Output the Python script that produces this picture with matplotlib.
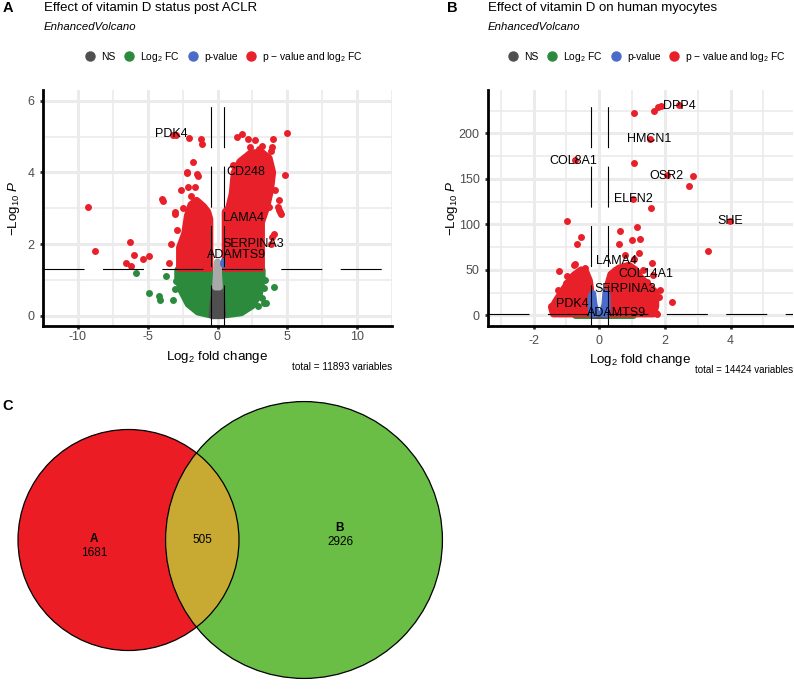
"""Volcano plots for the two vitamin D datasets plus the Venn overlap of their DEGs."""

import matplotlib.pyplot as plt
from matplotlib.lines import Line2D
from matplotlib.patches import Circle, Polygon

plt.rcParams["font.family"] = ["Liberation Sans", "DejaVu Sans"]
plt.rcParams["mathtext.fontset"] = "custom"
plt.rcParams["mathtext.rm"] = "Liberation Sans"
plt.rcParams["mathtext.it"] = "Liberation Sans:italic"
plt.rcParams["mathtext.bf"] = "Liberation Sans:bold"
plt.rcParams["axes.unicode_minus"] = False

# ---- panel A: vitamin D status post ACLR ----
a_red_x = [-9.3, -8.8, -6.3, -6.0, -6.55, -6.2, -5.35, -4.9, -3.97, -3.9, -3.5, -3.3, -3.08,
           -3.05, -2.6, -2.1, -2.2, -2.15, -1.75, -1.4, -1.45, -1.6, -3.2, -3.0, -2.03, -1.21,
           -1.12, 4.97, 1.42, 1.75, 2.15, 2.66, 4.0, 3.9, 3.85, 3.0, 2.6, 2.9, 4.85, 4.4, 4.55,
           1.1, 3.68, 4.3, 4.5, 4.05, 3.9, 3.8, 2.78, 4.15, 4.38, 3.2, 2.3, -2.45, -1.9, -2.9]
a_red_y = [3.04, 1.8, 2.05, 1.7, 1.48, 1.4, 1.58, 1.66, 3.26, 3.2, 1.46, 2.0, 2.9,
           2.85, 3.5, 3.6, 3.97, 4.0, 4.3, 3.9, 3.95, 3.6, 5.05, 5.05, 4.97, 4.93,
           4.79, 5.11, 4.99, 5.06, 4.93, 4.91, 4.93, 4.72, 4.6, 4.65, 4.55, 4.5, 3.93, 2.95, 2.85,
           4.22, 3.04, 3.04, 2.9, 2.28, 2.2, 2.0, 4.34, 3.51, 3.23, 4.75, 4.7, 3.0, 3.35, 2.4]
a_green_x = [-5.87, -4.94, -4.2, -4.1, -3.66, -3.0, -3.05, -3.2, 4.03, 3.4, 3.3, 3.35, 3.45, 3.2, 2.9]
a_green_y = [1.19, 0.62, 0.55, 0.45, 1.12, 0.98, 0.75, 0.44, 0.79, 1.0, 0.78, 0.35, 0.36, 0.5, 0.27]
a_blue_x = [0.3, 0.35, 0.4, 0.38]
a_blue_y = [1.45, 1.5, 1.55, 1.42]

# outlines of the dense point clouds (point centres)
a_cloud_green = [(-2.85, 1.28), (-0.55, 1.28), (-0.45, 0.5), (0.45, 0.5), (0.55, 1.28), (3.2, 1.28),
                 (3.2, 1.0), (3.0, 0.6), (2.5, 0.28), (1.7, 0.08), (0.5, 0.02), (-0.5, 0.02),
                 (-1.4, 0.1), (-2.1, 0.32), (-2.6, 0.7), (-2.85, 1.05)]
a_cloud_ns = [(-0.38, 0.0), (0.38, 0.0), (0.3, 0.4), (0.14, 0.8), (0.05, 1.0), (-0.05, 1.0),
              (-0.14, 0.8), (-0.3, 0.4)]
a_cloud_ns_sparse = [(-0.14, 0.8), (0.14, 0.8), (0.05, 1.3), (0.0, 1.5), (-0.05, 1.3)]
a_cloud_red_left = [(-0.55, 1.32), (-2.72, 1.32), (-2.72, 1.9), (-2.35, 2.3), (-2.15, 2.8),
                    (-1.9, 3.1), (-1.5, 3.22), (-1.0, 3.05), (-0.7, 2.9), (-0.55, 2.7)]
a_cloud_red_right = [(0.55, 1.32), (3.15, 1.32), (3.15, 2.6), (3.5, 3.0), (3.8, 3.5),
                     (3.95, 4.0), (3.7, 4.4), (3.2, 4.55), (2.4, 4.55), (1.6, 4.3), (1.2, 4.0),
                     (1.05, 3.4), (0.8, 3.0), (0.55, 2.9)]

a_labels = ["PDK4", "CD248", "LAMA4", "SERPINA3", "ADAMTS9"]
a_label_x = [-3.3, 2.0, 1.85, 2.54, 1.37]
a_label_y = [5.07, 4.02, 2.72, 1.99, 1.68]

# ---- panel B: vitamin D on human myocytes ----
b_red_x = [1.07, 1.67, 1.8, 1.87, 2.43, 1.55, -0.75, 1.07, 2.07, 2.85, 2.73, 1.02, 1.58, 3.98,
           -0.98, 3.31, 1.14, 0.63, 0.99, 1.25, 0.61, -0.57, -0.68, 1.2, 1.62, 2.2, -1.22, -0.98,
           -0.78, -0.75, -1.25, -1.48, -1.01, -0.44, 0.78, 1.65, 1.34, 1.44, 1.06, 0.48, 1.73,
           1.85, 1.81, 1.6, 1.75]
b_red_y = [222.5, 224.3, 229.0, 230.5, 231.0, 194.2, 170.7, 167.0, 154.0, 153.4, 142.4, 127.5,
           118.3, 104.0, 103.3, 71.0, 97.4, 92.6, 83.0, 84.2, 78.0, 85.7, 78.7, 68.5, 58.0, 15.0,
           48.7, 43.0, 55.0, 56.5, 27.8, 10.2, 35.0, 51.6, 66.0, 44.0, 49.8, 37.0, 61.9, 49.8, 2.2,
           27.8, 20.5, 10.2, 1.4]

b_cloud_green = [(-0.73, 0.2), (1.03, 0.2), (1.03, 1.2), (-0.73, 1.2)]
b_cloud_ns = [(-0.2, 0.2), (0.2, 0.2), (0.2, 1.2), (-0.2, 1.2)]
b_cloud_red_left = [(-0.27, 1.5), (-1.4, 1.5), (-1.45, 8), (-1.3, 17), (-1.12, 27), (-0.95, 36),
                    (-0.78, 44), (-0.55, 50), (-0.4, 47), (-0.3, 38), (-0.27, 30)]
b_cloud_red_right = [(0.27, 1.5), (1.65, 1.5), (1.72, 10), (1.72, 25), (1.5, 33), (1.25, 42),
                     (1.1, 50), (0.9, 55), (0.6, 52), (0.35, 45), (0.27, 35)]
b_cloud_blue_left = [(-0.24, 1.5), (-0.24, 22), (-0.2, 24), (-0.16, 12), (-0.1, 3), (-0.1, 1.5)]
b_cloud_blue_right = [(0.1, 1.5), (0.1, 3), (0.17, 12), (0.2, 25), (0.24, 22), (0.24, 1.5)]

b_labels = ["DPP4", "HMCN1", "COL8A1", "OSR2", "ELFN2", "SHE", "LAMA4", "COL14A1",
            "SERPINA3", "PDK4", "ADAMTS9"]
b_label_x = [2.44, 1.53, -0.78, 2.05, 1.03, 4.0, 0.53, 1.42, 0.78, -0.82, 0.53]
b_label_y = [230, 193.7, 170, 153.4, 127.5, 104, 60, 45, 28.9, 12.4, 2.9]

# ---- panel C: Venn counts ----
venn_only_a = 1681
venn_both = 505
venn_only_b = 2926

COL_NS = "#4f4f4f"
COL_FC = "#2b8a3b"
COL_P = "#4a6bc8"
COL_FC_P = "#e8202a"

W, H = 794, 690


def fig_box(left, top, right, bottom):
    """Pixel box of the reference -> figure fraction rectangle."""
    return [left / W, 1 - bottom / H, (right - left) / W, (bottom - top) / H]


def add_cloud(ax, verts, color, zorder, alpha=1.0):
    patch = Polygon(verts, closed=True, facecolor=color, edgecolor=color, lw=5,
                    joinstyle="round", alpha=alpha, zorder=zorder)
    ax.add_patch(patch)


def style_volcano(ax, xlim, ylim, xmajor, xminor, ymajor, yminor, fc_cut, xpad):
    ax.set_xlim(*xlim)
    ax.set_ylim(*ylim)
    ax.set_xticks(xmajor)
    ax.set_xticks(xminor, minor=True)
    ax.set_yticks(ymajor)
    ax.set_yticks(yminor, minor=True)
    ax.grid(which="major", color="#ebebeb", lw=2.2)
    ax.grid(which="minor", color="#ebebeb", lw=1.2)
    ax.set_axisbelow(True)
    for side in ("top", "right"):
        ax.spines[side].set_visible(False)
    for side in ("left", "bottom"):
        ax.spines[side].set_linewidth(2.0)
        ax.spines[side].set_color("black")
    ax.tick_params(which="major", length=2.5, width=2, color="#333333", labelsize=9,
                   labelcolor="#4d4d4d")
    ax.tick_params(axis="x", pad=xpad)
    ax.tick_params(which="minor", length=0)

    dash = (0, (36.9, 16.6))
    for xc in (-fc_cut, fc_cut):
        ax.axvline(xc, color="black", lw=0.8, linestyle=dash, zorder=6)
    ax.axhline(1.30103, color="black", lw=0.8, linestyle=dash, zorder=6)

    ax.set_xlabel(r"$\mathrm{Log}_{2}$ fold change", fontsize=9.6, labelpad=4)
    ax.set_ylabel(r"$-\mathrm{Log}_{10}\ \mathit{P}$", fontsize=9.6)


def add_legend(fig, cx, cy):
    handles = [Line2D([], [], ls="", marker="o", markersize=6.5, color=c)
               for c in (COL_NS, COL_FC, COL_P, COL_FC_P)]
    names = ["NS", r"$\mathrm{Log}_{2}$ FC", "p-value", r"p − value and $\mathrm{log}_{2}$ FC"]
    fig.legend(handles, names, loc="center", bbox_to_anchor=(cx / W, 1 - cy / H), ncol=4,
               frameon=False, fontsize=7.4, handlelength=1.0, handletextpad=0.6,
               columnspacing=0.8, borderpad=0)


fig = plt.figure(figsize=(W / 100, H / 100), dpi=100)

# ---------------- panel A ----------------
ax_a = fig.add_axes(fig_box(43, 90, 392, 325.7))
add_cloud(ax_a, a_cloud_green, COL_FC, 2)
add_cloud(ax_a, a_cloud_ns, COL_NS, 3)
add_cloud(ax_a, a_cloud_ns_sparse, "#a9a9a9", 3)
add_cloud(ax_a, a_cloud_red_left, COL_FC_P, 4)
add_cloud(ax_a, a_cloud_red_right, COL_FC_P, 4)
ax_a.scatter(a_green_x, a_green_y, s=25, color=COL_FC, lw=0, zorder=2)
ax_a.scatter(a_red_x, a_red_y, s=25, color=COL_FC_P, lw=0, zorder=4)
ax_a.scatter(a_blue_x, a_blue_y, s=12, color=COL_P, lw=0, zorder=5)
for name, lx, ly in zip(a_labels, a_label_x, a_label_y):
    ax_a.text(lx, ly, name, ha="center", va="center", fontsize=9, zorder=7)
style_volcano(ax_a, (-11.96, 12.38), (-0.28, 6.3), [-10, -5, 0, 5, 10],
              [-12.5, -7.5, -2.5, 2.5, 7.5, 12.5], [0, 2, 4, 6], [1, 3, 5], 0.5, 1.5)
ax_a.yaxis.set_label_coords((22 - 43) / 349, 0.5)
add_legend(fig, 224, 57)

fig.text(7.5 / W, 1 - 8.5 / H, "A", fontsize=10.5, fontweight="bold", ha="center", va="center")
fig.text(44 / W, 1 - 8 / H, "Effect of vitamin D status post ACLR", fontsize=9.5, va="center")
fig.text(44 / W, 1 - 27 / H, "EnhancedVolcano", fontsize=8.2, style="italic", va="center")
fig.text(392 / W, 1 - 367 / H, "total = 11893 variables", fontsize=7.2, ha="right",
         va="center")

# ---------------- panel B ----------------
ax_b = fig.add_axes(fig_box(488, 90, 793, 325.7))
add_cloud(ax_b, b_cloud_green, COL_FC, 2)
add_cloud(ax_b, b_cloud_ns, COL_NS, 3)
add_cloud(ax_b, b_cloud_red_left, COL_FC_P, 4)
add_cloud(ax_b, b_cloud_red_right, COL_FC_P, 4)
add_cloud(ax_b, b_cloud_blue_left, COL_P, 5)
add_cloud(ax_b, b_cloud_blue_right, COL_P, 5)
ax_b.scatter(b_red_x, b_red_y, s=25, color=COL_FC_P, lw=0, zorder=4)
for name, lx, ly in zip(b_labels, b_label_x, b_label_y):
    ax_b.text(lx, ly, name, ha="center", va="center", fontsize=9, zorder=7)
style_volcano(ax_b, (-3.39, 5.9), (-11.4, 247.6), [-2, 0, 2, 4], [-3, -1, 1, 3, 5],
              [0, 50, 100, 150, 200], [25, 75, 125, 175, 225], 0.25, 4.0)
ax_b.yaxis.set_label_coords((460 - 488) / 305, 0.5)
add_legend(fig, 647, 57)

fig.text(452.5 / W, 1 - 7.5 / H, "B", fontsize=10.5, fontweight="bold", ha="center", va="center")
fig.text(488 / W, 1 - 7.5 / H, "Effect of vitamin D on human myocytes", fontsize=9.5,
         va="center")
fig.text(488 / W, 1 - 27 / H, "EnhancedVolcano", fontsize=8.2, style="italic", va="center")
fig.text(793 / W, 1 - 370 / H, "total = 14424 variables", fontsize=7.0, ha="right",
         va="center")

# ---------------- panel C: Venn ----------------
ax_c = fig.add_axes([0, 0, 1, 350 / H])
ax_c.set_xlim(0, W)
ax_c.set_ylim(H, 340)
ax_c.axis("off")

scale = 110.5 / (venn_only_a + venn_both) ** 0.5
r_a = scale * (venn_only_a + venn_both) ** 0.5
r_b = scale * (venn_only_b + venn_both) ** 0.5
centre_a = (128.5, 540)
centre_b = (304, 540)

ax_c.add_patch(Circle(centre_a, r_a, facecolor="#ec1c24", edgecolor="none"))
circ_b = Circle(centre_b, r_b, facecolor="#6abd45", edgecolor="none")
ax_c.add_patch(circ_b)
overlap = Circle(centre_a, r_a, facecolor="#c8aa33", edgecolor="none")
ax_c.add_patch(overlap)
overlap.set_clip_path(circ_b)
for c, r in ((centre_a, r_a), (centre_b, r_b)):
    ax_c.add_patch(Circle(c, r, fill=False, edgecolor="black", lw=0.9))

ax_c.text(94, 539, "A", fontsize=8.5, fontweight="bold", ha="center", va="center")
ax_c.text(94, 553, str(venn_only_a), fontsize=8.5, ha="center", va="center")
ax_c.text(202, 540, str(venn_both), fontsize=8.5, ha="center", va="center")
ax_c.text(340, 528, "B", fontsize=8.5, fontweight="bold", ha="center", va="center")
ax_c.text(340, 542, str(venn_only_b), fontsize=8.5, ha="center", va="center")

fig.text(7.5 / W, 1 - 406 / H, "C", fontsize=10.5, fontweight="bold", ha="center", va="center")

fig.savefig("out.png", dpi=100)
